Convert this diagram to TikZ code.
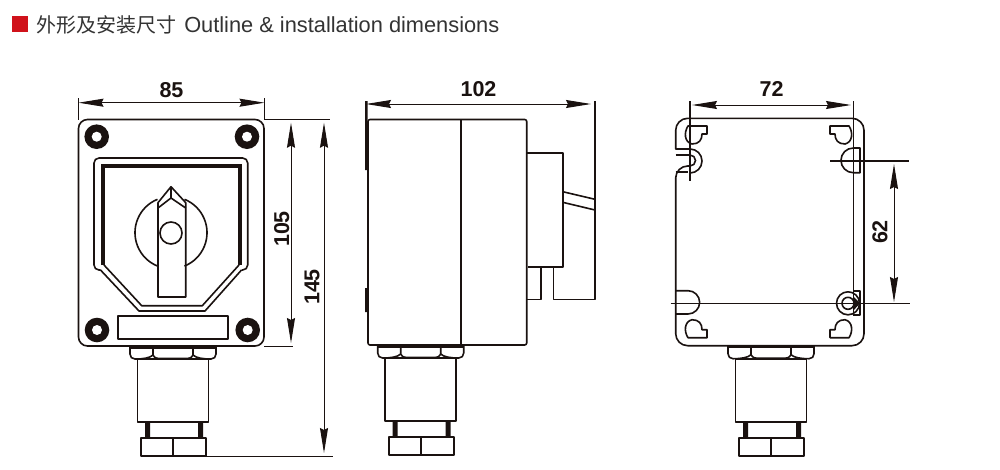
\documentclass[tikz,border=0pt]{standalone}
\usepackage{fontspec}
\setmainfont{Liberation Sans}
\newfontfamily\cjkfont{Noto Sans CJK SC}
\usetikzlibrary{positioning, arrows.meta}
\definecolor{titlered}{HTML}{D0121B}
\definecolor{titletext}{HTML}{333333}
\definecolor{inkline}{HTML}{1A1210}
\tikzstyle{myoutline}=[draw=inkline, line width=1.6pt, line join=round]
\tikzstyle{mythin}=[draw=inkline, line width=1pt]
\newcommand{\drawgland}[2]{%
  \begin{scope}[shift={(#1,#2)}]
    % nut
    \fill[inkline] (-43,0) rectangle (43,2.5);
    \draw[myoutline] (43,0) -- (43,8) .. controls (43,11) and (41,13) .. (38,13) .. controls (30,13) and (23,12) .. (20,9) -- (20,0);
    \draw[myoutline] (20,9) .. controls (18,12) and (17,12.5) .. (14,12.5) -- (-14,12.5) .. controls (-17,12.5) and (-18,12) .. (-20,9) -- (-20,0);
    \draw[myoutline] (-20,9) .. controls (-23,12) and (-30,13) .. (-38,13) .. controls (-41,13) and (-43,11) .. (-43,8) -- (-43,0);
    % body
    \draw[myoutline] (-35.5,13) rectangle (35.5,76);
    % neck
    \fill[inkline] (-28,76) rectangle (-23,92) (25,76) rectangle (30,92);
    % bottom nut
    \draw[myoutline] (-32,92) rectangle (33,110);
    \draw[myoutline] (0,92) -- (0,110);
  \end{scope}}
\newcommand{\drawscrew}[2]{%
  \fill[inkline] (#1,#2) circle (12.3);
  \fill[white] (#1,#2) circle (5);}
\begin{document}
\begin{tikzpicture}[x=1pt,y=-1pt]
  \tikzset{
    dim line/.style={mythin, {Stealth[length=25pt,width=8pt,inset=2pt]}-{Stealth[length=25pt,width=8pt,inset=2pt]}},
    ext line/.style={mythin},
    dim label/.style={font=\fontsize{21.5}{21.5}\selectfont\bfseries, text=inkline, inner sep=0pt}
  }
  \useasboundingbox[fill=white] (0,0) rectangle (1000,469);

  % title
  \fill[titlered] (12,16) rectangle (27.5,32);
  \node[anchor=west, inner sep=0pt, text=titletext, font=\fontsize{21.8}{21.8}\selectfont] (title) at (36,25) {{\cjkfont\fontsize{20}{20}\selectfont 外形及安装尺寸}\hspace{2pt} Outline \& installation dimensions};

  % front view
  \draw[myoutline] (78.5,119.5) [rounded corners=9pt] -- (264,119.5) -- (264,346) -- (78.5,346) -- cycle;
  \drawscrew{96.7}{136.7}
  \drawscrew{247}{136.7}
  \drawscrew{97}{330}
  \drawscrew{247.7}{330}
  \draw[myoutline, rounded corners=5pt] (100.5,270) -- (94,270) -- (94,158) -- (247.7,158) -- (247.7,270) -- (241.5,270);
  \draw[inkline, line width=4pt] (102.5,265) -- (102.5,166) -- (240,166) -- (240,265);
  \draw[myoutline] (100.5,270) -- (139,311) -- (205,311) -- (241.5,270);
  \draw[myoutline] (104,265) -- (141.7,305.7) -- (202.3,305.7) -- (239,265);
  % knob
  \draw[myoutline] (157.5,199.3) arc[start angle=248,end angle=112,radius=36];
  \draw[myoutline] (184.5,199.3) arc[start angle=-68,end angle=68,radius=36];
  \draw[myoutline] (158,297) -- (158,202.7) -- (171,186.7) -- (185.7,202.7) -- (185.7,297) -- cycle;
  \draw[myoutline] (158,208) -- (171,198) -- (185.7,208);
  \draw[myoutline] (171,187) -- (171,198);
  \draw[myoutline, fill=white] (171,233) circle (11);
  \draw[myoutline] (117.7,316) rectangle (228,339);
  \drawgland{173}{346}

  % side view
  \draw[myoutline, rounded corners=2pt] (368,119.5) -- (526.7,119.5) -- (526.7,345) -- (368,345) -- cycle;
  \draw[myoutline] (460.7,119.5) -- (460.7,345);
  \fill[inkline] (365,101) rectangle (367.5,170) (365,288) rectangle (368,312);
  \draw[myoutline] (526.7,153) -- (562.7,153) -- (562.7,267) -- (527.7,267);
  \draw[myoutline] (541,267) -- (541,299.3) -- (526.7,299.3);
  \draw[myoutline] (553.3,267) -- (553.3,299.3) -- (595,299.3) -- (595,101);
  \draw[myoutline] (562.7,191.7) -- (595,199.3);
  \draw[myoutline] (562.7,202.3) -- (595,210);
  \drawgland{420.7}{345}

  % rear view
  \draw[myoutline] (690,149) -- (675.7,149) [rounded corners=12pt] -- (675.7,118.3) -- (864,118.3) -- (864,345.7) -- (675.7,345.7) -- (675.7,166) [sharp corners] -- (690,166);
  \draw[myoutline] (675.7,155) -- (690,155);
  \draw[myoutline] (675.7,172) -- (688,172);
  \draw[myoutline] (690,101) -- (690,181);
  \draw[myoutline] (690,149) arc[start angle=-90,end angle=90,radius=12];
  \draw[myoutline] (690,155) arc[start angle=-90,end angle=90,radius=5.5];
  \draw[myoutline] (853.3,101) -- (853.3,315);
  \draw[myoutline] (853.3,148) -- (860,148) -- (860,172.7) -- (853.3,172.7) arc[start angle=90,end angle=270,radius=12.35];
  % corner lugs
  \foreach \lugx/\lugy in {1/1,-1/1,1/-1,-1/-1}{
    \begin{scope}[shift={(768.5,231.85)}, xscale=\lugx, yscale=\lugy]
      \draw[myoutline] (-61.5,-105.85) -- (-80.5,-105.85) .. controls (-84.5,-99.85) and (-84.5,-89.85) .. (-76.5,-87.85) .. controls (-69.5,-87.85) and (-66.5,-91.85) .. (-66.5,-97.85) -- (-61.5,-97.85) -- cycle;
    \end{scope}
  }
  % lower slots
  \draw[myoutline] (676,290.7) -- (688,290.7) arc[start angle=-90,end angle=90,radius=11.65] -- (676,314);
  \draw[myoutline] (853.3,290.7) -- (860,290.7) -- (860,315) -- (853.3,315);
  \draw[myoutline] (848,303.3) circle (11.5);
  \draw[myoutline] (848,303.3) circle (6);
  \fill[inkline] (853,296) -- (860,303.3) -- (853,311) -- cycle;
  \draw[myoutline] (830,160.7) -- (909,160.7);
  \draw[myoutline] (670.7,303.3) -- (910,303.3);
  \drawgland{771}{345.7}

  % dimensions
  \coordinate (wa) at (78.5,102.7);
  \coordinate (wb) at (264.5,102.7);
  \draw[ext line] (78.5,98) -- (78.5,120) (264.5,98) -- (264.5,120);
  \draw[dim line] (wa) -- node[dim label, above=4.5pt] (dima) {85} (wb);

  \draw[ext line] (264,119.5) -- (330,119.5) (264,346) -- (293,346) (206,456) -- (333,456);
  \coordinate (ha) at (291,122.7);
  \coordinate (hb) at (291,343);
  \coordinate (hc) at (324,122.7);
  \coordinate (hd) at (324,453);
  \draw[dim line] (ha) -- (hb);
  \draw[dim line] (hc) -- (hd);
  \node[dim label, rotate=90] (dimb) at (281.7,229) {105};
  \node[dim label, rotate=90] (dimc) at (312,287) {145};

  \coordinate (wc) at (366,104);
  \coordinate (wd) at (591,104);
  \draw[dim line] (wc) -- node[dim label, above=7pt] (dimd) {102} (wd);

  \coordinate (we) at (692,105);
  \coordinate (wf) at (851,105);
  \draw[dim line] (we) -- node[dim label, above=8pt] (dime) {72} (wf);

  \coordinate (hg) at (894,164);
  \coordinate (hf) at (894,302);
  \draw[dim line] (hg) -- (hf);
  \node[dim label, rotate=90] (dimf) at (880,232) {62};
\end{tikzpicture}
\end{document}
